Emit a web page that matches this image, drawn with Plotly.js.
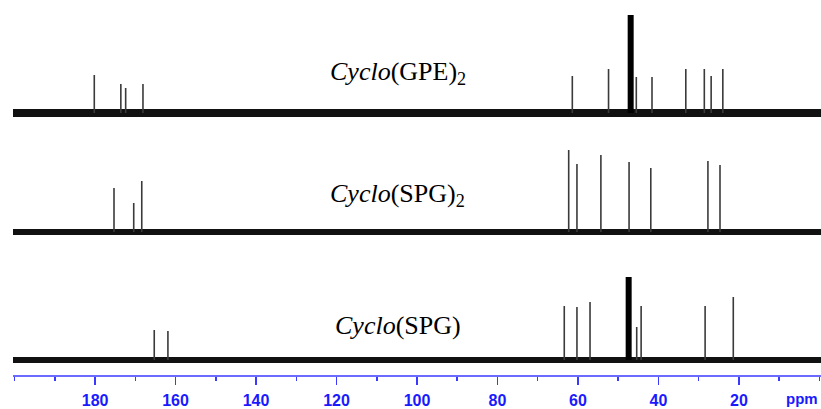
<!DOCTYPE html>
<html>
<head>
<meta charset="utf-8">
<script src="https://cdn.plot.ly/plotly-3.0.1.min.js"></script>
<style>html,body{margin:0;padding:0;background:#fff;}#chart{width:821px;height:409px;}</style>
</head>
<body>
<div id="chart"></div>
<script>
// Spectral window (ppm)
const ppmStart = 200.4;
const ppmEnd = -0.4;

// Spectrum names
const names = ['<i>Cyclo</i>(GPE)<sub>2</sub>', '<i>Cyclo</i>(SPG)<sub>2</sub>', '<i>Cyclo</i>(SPG)'];

// Vertical offsets of each spectrum baseline
const offsets = [262, 143, 15];

// Cyclo(GPE)2 peaks
const gpePpm = [180.2, 173.6, 172.4, 168.1, 61.4, 52.4, 45.5, 41.6, 33.2, 28.6, 26.9, 24.0];
const gpeInt = [38, 29, 25, 29, 37, 44, 36, 36, 44, 44, 37, 44];

// Cyclo(SPG)2 peaks
const spg2Ppm = [175.3, 170.4, 168.4, 62.3, 60.25, 54.3, 47.3, 41.9, 27.7, 24.7];
const spg2Int = [44, 29, 51, 82, 68, 77, 70, 64, 71, 67];

// Cyclo(SPG) peaks
const spgPpm = [165.3, 161.9, 63.4, 60.25, 57.0, 45.4, 44.3, 28.4, 21.4];
const spgInt = [30, 29, 54, 53, 58, 33, 54, 54, 63];

// Solvent signal (clipped) per spectrum: ppm and intensity; null = none
const solventPpm = [46.9, null, 47.4];
const solventInt = [98, null, 83];

// Axis ticks
const majorTicks = [180, 160, 140, 120, 100, 80, 60, 40, 20];
const tickLabels = ['180', '160', '140', '120', '100', '80', '60', '40', '20'];

const peakSets = [[gpePpm, gpeInt], [spg2Ppm, spg2Int], [spgPpm, spgInt]];

const traces = [];
peakSets.forEach((ps, i) => {
  const base = offsets[i];
  traces.push({
    type: 'scatter', mode: 'lines',
    x: [ppmStart, ppmEnd], y: [base, base],
    line: {color: '#111', width: i === 0 ? 8 : 6},
    hoverinfo: 'skip', showlegend: false
  });
  const xs = [], ys = [];
  ps[0].forEach((p, k) => { xs.push(p, p, null); ys.push(base, base + ps[1][k], null); });
  traces.push({
    type: 'scatter', mode: 'lines', x: xs, y: ys,
    line: {color: '#3a3a3a', width: 1.6},
    hoverinfo: 'skip', showlegend: false
  });
  if (solventPpm[i] !== null) {
    traces.push({
      type: 'scatter', mode: 'lines',
      x: [solventPpm[i], solventPpm[i]], y: [base, base + solventInt[i]],
      line: {color: '#000', width: 6},
      hoverinfo: 'skip', showlegend: false
    });
  }
});

const labelY = [302, 180, 50];
const annotations = names.map((n, i) => ({
  xref: 'paper', yref: 'y', x: 0.476, y: labelY[i],
  text: n, showarrow: false, xanchor: 'center', yanchor: 'middle',
  font: {family: 'Liberation Serif, Times New Roman, serif', size: 26, color: '#000'}
}));
annotations.push({
  xref: 'paper', yref: 'paper', x: 0.976, y: 0, yshift: -23,
  text: 'ppm', showarrow: false, xanchor: 'center', yanchor: 'middle',
  font: {family: 'Liberation Sans, Arial, sans-serif', size: 15, color: '#1a1aff', weight: 'bold'}
});

const layout = {
  width: 821, height: 409,
  margin: {l: 13, r: 0, t: 0, b: 34},
  paper_bgcolor: '#fff', plot_bgcolor: '#fff',
  showlegend: false,
  xaxis: {
    range: [ppmStart, ppmEnd],
    showgrid: false, zeroline: false,
    showline: true, linecolor: '#6b6bff', linewidth: 2,
    ticks: 'outside', ticklen: 8, tickwidth: 1.5, tickcolor: '#3a3aff',
    tickmode: 'array', tickvals: majorTicks, ticktext: tickLabels,
    ticklabelstandoff: 2,
    tickfont: {family: 'Liberation Sans, Arial, sans-serif', size: 16, color: '#1a1aff', weight: 'bold'},
    minor: {dtick: 10, tick0: 0, ticks: 'outside', ticklen: 4, tickcolor: '#3a3aff', tickwidth: 1.5, showgrid: false},
    fixedrange: true
  },
  yaxis: {range: [0, 375], visible: false, fixedrange: true},
  annotations: annotations
};

Plotly.newPlot('chart', traces, layout, {displayModeBar: false, staticPlot: true});
</script>
</body>
</html>
